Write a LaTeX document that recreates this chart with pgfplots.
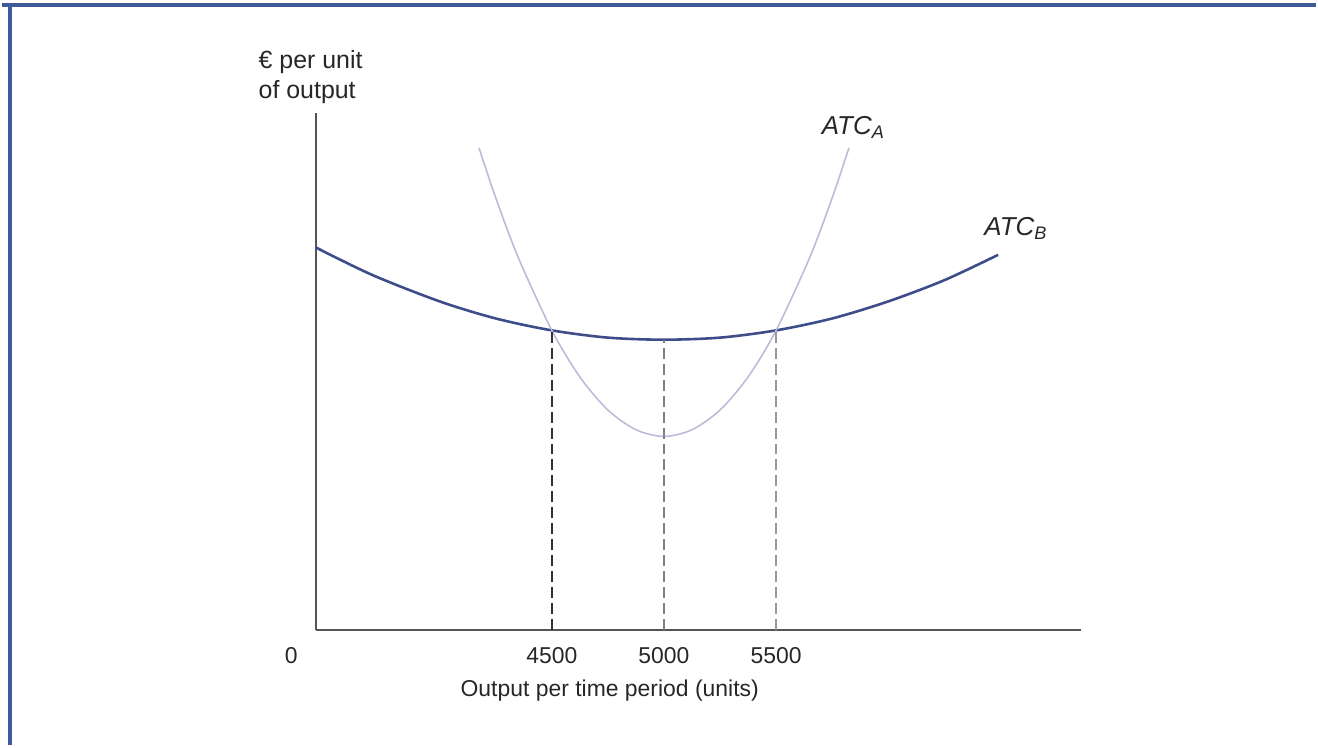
\documentclass[border=0pt]{standalone}
\usepackage{fontspec}
\setmainfont{Liberation Sans}
\usepackage{pgfplots}
\pgfplotsset{compat=1.18}
\definecolor{atcb}{HTML}{3D4D8A}
\definecolor{atca}{HTML}{B9BCDB}
\definecolor{framebl}{HTML}{3F5A99}
\definecolor{axisgray}{HTML}{555555}
\begin{document}
\begin{tikzpicture}
\begin{axis}[
    x=0.1125pt, y=2.595pt,
    xmin=3449, xmax=6858,
    ymin=0, ymax=100,
    axis x line=bottom,
    axis y line=left,
    axis line style={-, draw=axisgray, line width=0.8pt},
    xtick={4500,5000,5500},
    xticklabels={4500,5000,5500},
    ytick=\empty,
    major tick length=0pt,
    xticklabel style={font=\fontsize{11.5}{14}\selectfont, anchor=center, yshift=-13pt, text=black!85},
    clip=false,
]

% ATC_B: long-run flat curve
\addplot[color=atcb, line width=1.3pt, smooth] coordinates {
(3449,73.9) (3700,68.6) (4000,63.5) (4250,60.2) (4500,57.9) (4750,56.5)
(5000,56.1) (5250,56.5) (5500,57.9) (5750,60.2) (6000,63.5) (6250,67.6) (6490,72.5)
};

% ATC_A: steep curve
\addplot[color=atca, line width=0.8pt, smooth] coordinates {
(4175,93.2) (4250,83.5) (4350,72.0) (4500,57.9) (4625,48.9) (4750,42.5) (4875,38.7)
(5000,37.4) (5125,38.7) (5250,42.5) (5375,48.9) (5500,57.9) (5650,72.0) (5750,83.5) (5825,93.2)
};

% dashed drop lines
\addplot[color=black!80, line width=0.7pt, dash pattern=on 5.5pt off 2.5pt] coordinates {(4500,0) (4500,57.9)};
\addplot[color=black!50, line width=0.7pt, dash pattern=on 5.5pt off 2.5pt] coordinates {(5000,0) (5000,56.1)};
\addplot[color=black!40, line width=0.7pt, dash pattern=on 5.5pt off 2.5pt] coordinates {(5500,0) (5500,57.9)};

% labels
\node[anchor=center, font=\fontsize{11.5}{14}\selectfont, text=black!85] at (axis cs:3338,-5) {0};
\node[anchor=center, font=\fontsize{11.5}{14}\selectfont, text=black!85] at (axis cs:4758,-11.75) {Output per time period (units)};
\node[anchor=north west, inner sep=0pt, align=left, font=\fontsize{12.5}{15}\selectfont, text=black!85] at (axis cs:3191,112.1) {€ per unit\\of output};
\node[anchor=west, inner sep=0pt, font=\fontsize{13}{15}\selectfont, text=black!85] at (axis cs:5702,97.1) {\textit{ATC}\textsubscript{\textit{A}}};
\node[anchor=west, inner sep=0pt, font=\fontsize{13}{15}\selectfont, text=black!85] at (axis cs:6427,77.6) {\textit{ATC}\textsubscript{\textit{B}}};

% frame and page extent
\draw[framebl, line width=2.2pt] (axis cs:2048.9,120.8) -- (axis cs:7906.7,120.8);
\draw[framebl, line width=2.4pt] (axis cs:2084,121.2) -- (axis cs:2084,-22.35);
\path (axis cs:2048.9,-22.35) rectangle (axis cs:7906.7,121.77);
\end{axis}
\end{tikzpicture}
\end{document}
